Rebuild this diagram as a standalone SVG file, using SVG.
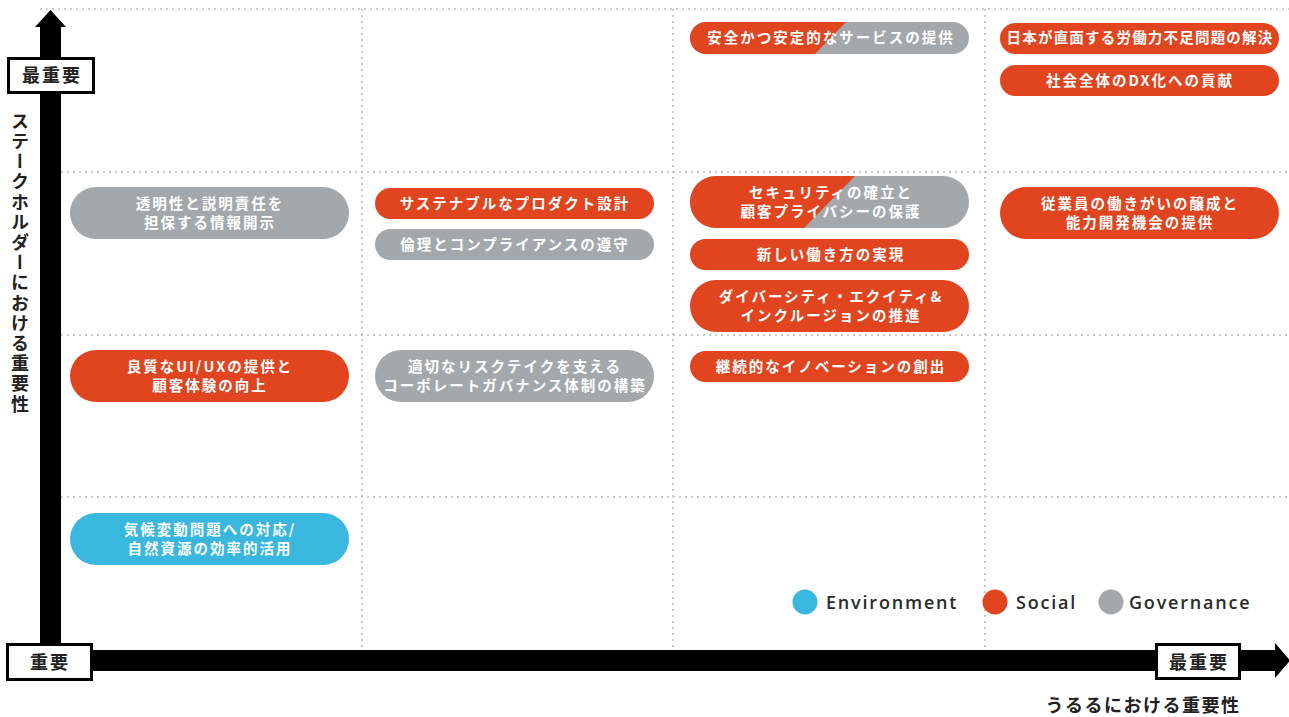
<svg xmlns="http://www.w3.org/2000/svg" width="1289" height="717" viewBox="0 0 1289 717">
<style>
.grid{stroke:#bdbdbd;stroke-width:1.6;stroke-dasharray:2 4;fill:none}
.r{fill:#E0451F}
.g{fill:#A5A8AA}
.b{fill:#3AB7DE}
.t{font-family:"Noto Sans CJK JP","Noto Sans CJK SC",sans-serif;font-weight:700;font-size:14.5px;fill:#fff;letter-spacing:2px;text-anchor:middle}
.ax{font-family:"Noto Sans CJK JP","Noto Sans CJK SC",sans-serif;font-weight:700;font-size:18px;fill:#222;text-anchor:middle}
.box{fill:#fff;stroke:#000;stroke-width:3}
.lg{font-family:"Open Sans","Noto Sans",sans-serif;font-weight:600;font-size:18px;fill:#2a2a2a;letter-spacing:1.8px}
</style>
<defs>
<clipPath id="c1"><rect x="690" y="22" width="279" height="32" rx="16"/></clipPath>
<clipPath id="c7"><rect x="690" y="176" width="279" height="52" rx="26"/></clipPath>
</defs>
<rect width="1289" height="717" fill="#fff"/>
<g id="grid">
<line class="grid" x1="40" y1="9" x2="1289" y2="9"/>
<line class="grid" x1="61" y1="172" x2="1289" y2="172"/>
<line class="grid" x1="61" y1="335" x2="1289" y2="335"/>
<line class="grid" x1="61" y1="497" x2="1289" y2="497"/>
<line class="grid" x1="362" y1="9" x2="362" y2="650"/>
<line class="grid" x1="673" y1="9" x2="673" y2="650"/>
<line class="grid" x1="985" y1="9" x2="985" y2="650"/>
</g>
<g id="axes">
<rect x="40" y="26" width="21" height="625" fill="#000"/>
<polygon points="35,27 50.5,10 66,27" fill="#000"/>
<rect x="90" y="650" width="1187" height="21" fill="#000"/>
<polygon points="1275,643 1290,660.5 1275,678" fill="#000"/>
<g id="ylabel-top"><rect class="box" x="8.5" y="58.5" width="85" height="34"/><text class="ax" x="52" y="82" letter-spacing="2">最重要</text></g>
<g id="xlabel-left"><rect class="box" x="7.5" y="644.5" width="84" height="35"/><text class="ax" x="50" y="669" letter-spacing="2">重要</text></g>
<g id="xlabel-right"><rect class="box" x="1156.5" y="644.5" width="83" height="34"/><text class="ax" x="1199" y="669" letter-spacing="2">最重要</text></g>
<text class="ax" x="20" y="112" style="writing-mode:vertical-rl;text-anchor:start" letter-spacing="2.2">ステークホルダーにおける重要性</text>
<text class="ax" x="1143" y="712" letter-spacing="1.5">うるるにおける重要性</text>
</g>
<g id="n1">
<g clip-path="url(#c1)"><rect class="g" x="690" y="22" width="279" height="32"/><polygon class="r" points="690,22 846,22 815,54 690,54"/></g>
<text class="t" x="831" y="42.5">安全かつ安定的なサービスの提供</text>
</g>
<g id="n2"><rect class="r" x="1000" y="23" width="279" height="31" rx="15.5"/><text class="t" x="1140" y="43" style="letter-spacing:1.2px">日本が直面する労働力不足問題の解決</text></g>
<g id="n3"><rect class="r" x="1000" y="65" width="279" height="31" rx="15.5"/><text class="t" x="1140" y="85.5">社会全体のDX化への貢献</text></g>
<g id="n4"><rect class="g" x="70" y="187" width="279" height="52" rx="26"/><text class="t" x="210" y="209">透明性と説明責任を</text><text class="t" x="210" y="228">担保する情報開示</text></g>
<g id="n5"><rect class="r" x="375" y="188" width="279" height="31" rx="15.5"/><text class="t" x="515" y="208.5">サステナブルなプロダクト設計</text></g>
<g id="n6"><rect class="g" x="375" y="229" width="279" height="31" rx="15.5"/><text class="t" x="515" y="249.5">倫理とコンプライアンスの遵守</text></g>
<g id="n7">
<g clip-path="url(#c7)"><rect class="g" x="690" y="176" width="279" height="52"/><polygon class="r" points="690,176 855,176 804,228 690,228"/></g>
<text class="t" x="831" y="198">セキュリティの確立と</text><text class="t" x="831" y="217">顧客プライバシーの保護</text>
</g>
<g id="n8"><rect class="r" x="690" y="239" width="279" height="31" rx="15.5"/><text class="t" x="831" y="259.5">新しい働き方の実現</text></g>
<g id="n9"><rect class="r" x="690" y="280" width="279" height="52" rx="26"/><text class="t" x="831" y="302">ダイバーシティ・エクイティ&amp;</text><text class="t" x="831" y="321">インクルージョンの推進</text></g>
<g id="n10"><rect class="r" x="1000" y="187" width="279" height="52" rx="26"/><text class="t" x="1140" y="209">従業員の働きがいの醸成と</text><text class="t" x="1140" y="228">能力開発機会の提供</text></g>
<g id="n11"><rect class="r" x="70" y="350" width="279" height="52" rx="26"/><text class="t" x="210" y="372">良質なUI/UXの提供と</text><text class="t" x="210" y="391">顧客体験の向上</text></g>
<g id="n12"><rect class="g" x="375" y="350" width="279" height="52" rx="26"/><text class="t" x="515" y="372">適切なリスクテイクを支える</text><text class="t" x="515" y="391">コーポレートガバナンス体制の構築</text></g>
<g id="n13"><rect class="r" x="690" y="351" width="279" height="31" rx="15.5"/><text class="t" x="831" y="371.5">継続的なイノベーションの創出</text></g>
<g id="n14"><rect class="b" x="70" y="513" width="279" height="52" rx="26"/><text class="t" x="210" y="535">気候変動問題への対応/</text><text class="t" x="210" y="554">自然資源の効率的活用</text></g>
<g id="legend">
<circle class="b" cx="805" cy="602" r="12.5"/><text class="lg" x="826" y="608.5">Environment</text>
<circle class="r" cx="995" cy="602" r="12.5"/><text class="lg" x="1016" y="608.5">Social</text>
<circle class="g" cx="1111" cy="602" r="12.5"/><text class="lg" x="1129" y="608.5">Governance</text>
</g>
</svg>
